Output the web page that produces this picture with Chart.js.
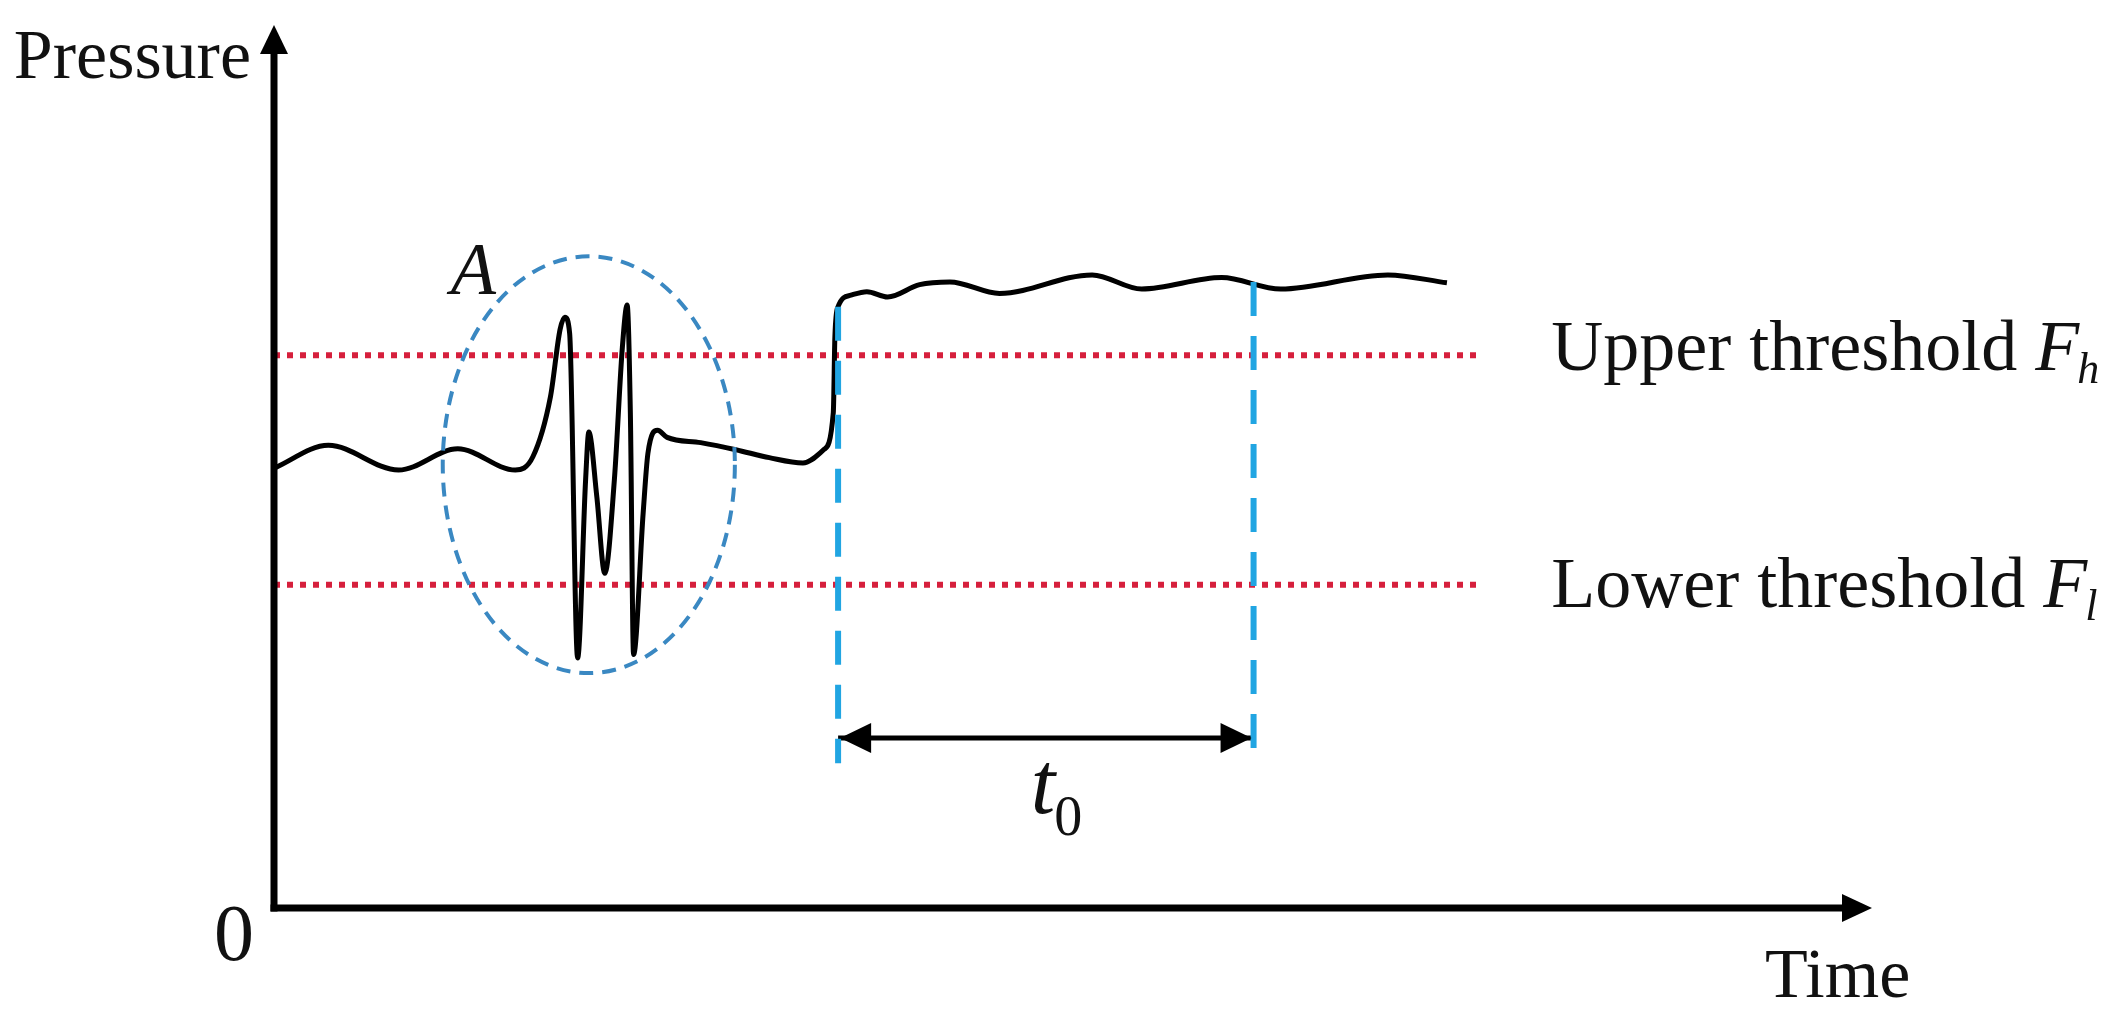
<!DOCTYPE html>
<html><head><meta charset="utf-8">
<script src="https://cdn.jsdelivr.net/npm/chart.js@4.4.1/dist/chart.umd.min.js"></script>
<style>html,body{margin:0;padding:0;background:#fff;overflow:hidden}canvas{display:block}</style>
</head><body>
<canvas id="c" width="2113" height="1015"></canvas>
<script>
// ---- data (arbitrary units: time 0..100, pressure 0..100) ----
const timeValues = [0, 3.4, 7.8, 11.5, 15.1, 16.2, 17.3, 17.9, 18.2, 18.5, 19.0, 19.5, 19.7, 20.2, 20.7, 21.3, 21.8, 22.1, 22.3, 22.5, 23.1, 23.4, 24.0, 24.6, 26.7, 28.9, 31.0, 33.1, 34.4, 35.0, 35.1, 35.3, 36.1, 37.1, 38.4, 40.4, 42.3, 45.4, 51.2, 54.3, 59.3, 63.0, 69.7, 73.4];
const pressureValues = [49.8, 52.4, 49.6, 52.0, 49.6, 51.1, 57.9, 65.5, 66.9, 65.1, 28.3, 48.5, 53.9, 46.6, 37.9, 48.5, 63.5, 68.3, 56.1, 28.7, 44.7, 51.5, 54.1, 53.3, 52.7, 51.9, 51.0, 50.4, 51.9, 56.1, 64.7, 68.1, 69.4, 69.8, 69.2, 70.6, 70.9, 69.6, 71.7, 70.1, 71.4, 70.1, 71.7, 70.8];
const upperThreshold = 62.6;
const lowerThreshold = 36.6;
const thresholdSpan = [0, 75.3];
const t0Bounds = [35.3, 61.3];
const t0LineTops = [68.1, 70.9];
const t0LineBottoms = [16.4, 15.9];
const t0ArrowLevel = 19.25;
const regionA = [19.7, 50.2, 9.14, 23.6]; // centre time, centre pressure, radius (time), radius (pressure)
const axisRange = [0, 100];
const axisTitleY = 'Pressure';
const axisTitleX = 'Time';
const originLabel = '0';
const upperLabel = ['Upper threshold ', 'F', 'h'];
const lowerLabel = ['Lower threshold ', 'F', 'l'];
const regionLabel = 'A';
const durationLabel = ['t', '0'];

const curve = timeValues.map((t, i) => ({x: t, y: pressureValues[i]}));
const RED = '#d61f3c', BLUE = '#21a5e2', ELL = '#3a88c2';
const SERIF = '"Liberation Serif", "Times New Roman", serif';

const deco = {
  id: 'deco',
  afterDatasetsDraw(chart) {
    const ctx = chart.ctx, xs = chart.scales.x, ys = chart.scales.y;
    const X = v => xs.getPixelForValue(v), Y = v => ys.getPixelForValue(v);
    ctx.save();
    // ellipse A
    const cx = X(regionA[0]), cy = Y(regionA[1]);
    const rx = X(regionA[0] + regionA[2]) - cx, ry = cy - Y(regionA[1] + regionA[3]);
    ctx.strokeStyle = ELL; ctx.lineWidth = 4; ctx.setLineDash([14, 9]);
    ctx.beginPath(); ctx.ellipse(cx, cy, rx, ry, 0, 0, Math.PI * 2); ctx.stroke();
    ctx.setLineDash([]);
    // axes
    const x0 = X(axisRange[0]), y0 = Y(axisRange[0]), xE = X(axisRange[1]), yE = Y(axisRange[1]);
    ctx.strokeStyle = '#000'; ctx.fillStyle = '#000'; ctx.lineWidth = 7; ctx.lineCap = 'butt';
    ctx.beginPath(); ctx.moveTo(x0, y0 + 3.5); ctx.lineTo(x0, yE + 20); ctx.stroke();
    ctx.beginPath(); ctx.moveTo(x0 - 3.5, y0); ctx.lineTo(xE - 20, y0); ctx.stroke();
    ctx.beginPath(); ctx.moveTo(x0, yE); ctx.lineTo(x0 - 14, yE + 29); ctx.lineTo(x0 + 14, yE + 29); ctx.closePath(); ctx.fill();
    ctx.beginPath(); ctx.moveTo(xE, y0); ctx.lineTo(xE - 30, y0 - 14); ctx.lineTo(xE - 30, y0 + 14); ctx.closePath(); ctx.fill();
    // double arrow heads
    const ay = Y(t0ArrowLevel), aL = X(t0Bounds[0]), aR = X(t0Bounds[1]);
    ctx.beginPath(); ctx.moveTo(aL + 2, ay); ctx.lineTo(aL + 33, ay - 15); ctx.lineTo(aL + 33, ay + 15); ctx.closePath(); ctx.fill();
    ctx.beginPath(); ctx.moveTo(aR - 2, ay); ctx.lineTo(aR - 33, ay - 15); ctx.lineTo(aR - 33, ay + 15); ctx.closePath(); ctx.fill();
    // texts
    ctx.fillStyle = '#111'; ctx.textBaseline = 'alphabetic';
    ctx.font = '70px ' + SERIF; ctx.textAlign = 'right';
    ctx.fillText(axisTitleY, x0 - 23, yE + 53);
    ctx.textAlign = 'center'; ctx.font = '80px ' + SERIF;
    ctx.fillText(originLabel, x0 - 40, y0 + 52);
    ctx.textAlign = 'left'; ctx.font = '70px ' + SERIF;
    ctx.fillText(axisTitleX, xE - 107, y0 + 89);
    const lblX = X(thresholdSpan[1]) + 74;
    const drawThr = (parts, base) => {
      ctx.font = '72px ' + SERIF;
      ctx.fillText(parts[0], lblX, base);
      let w = ctx.measureText(parts[0]).width;
      ctx.font = 'italic 72px ' + SERIF;
      ctx.fillText(parts[1], lblX + w, base);
      w += ctx.measureText(parts[1]).width;
      ctx.font = 'italic 44px ' + SERIF;
      ctx.fillText(parts[2], lblX + w - 2, base + 13);
    };
    drawThr(upperLabel, Y(upperThreshold) + 15);
    drawThr(lowerLabel, Y(lowerThreshold) + 22);
    ctx.font = 'italic 74px ' + SERIF;
    ctx.fillText(regionLabel, cx - 138, cy - 171);
    const tx = (aL + aR) / 2 - 15;
    ctx.font = 'italic 88px ' + SERIF;
    ctx.fillText(durationLabel[0], tx, ay + 75);
    const tw = ctx.measureText(durationLabel[0]).width;
    ctx.font = '56px ' + SERIF;
    ctx.fillText(durationLabel[1], tx + tw - 1, ay + 97);
    ctx.restore();
  }
};

new Chart(document.getElementById('c'), {
  type: 'scatter',
  data: {
    datasets: [
      {label: 'Upper threshold', data: thresholdSpan.map(t => ({x: t, y: upperThreshold})), showLine: true,
       borderColor: RED, borderWidth: 6, borderDash: [6, 7], pointRadius: 0, order: 4},
      {label: 'Lower threshold', data: thresholdSpan.map(t => ({x: t, y: lowerThreshold})), showLine: true,
       borderColor: RED, borderWidth: 6, borderDash: [6, 7], pointRadius: 0, order: 4},
      {label: 'Pressure', data: curve, showLine: true, borderColor: '#000', borderWidth: 5,
       cubicInterpolationMode: 'monotone', pointRadius: 0, order: 3},
      {label: 't0 start', data: [{x: t0Bounds[0], y: t0LineTops[0]}, {x: t0Bounds[0], y: t0LineBottoms[0]}], showLine: true,
       borderColor: BLUE, borderWidth: 6, borderDash: [34, 20], pointRadius: 0, order: 1},
      {label: 't0 end', data: [{x: t0Bounds[1], y: t0LineTops[1]}, {x: t0Bounds[1], y: t0LineBottoms[1]}], showLine: true,
       borderColor: BLUE, borderWidth: 6, borderDash: [34, 20], pointRadius: 0, order: 1},
      {label: 't0', data: t0Bounds.map(t => ({x: t, y: t0ArrowLevel})), showLine: true,
       borderColor: '#000', borderWidth: 5, pointRadius: 0, order: 2}
    ]
  },
  options: {
    responsive: false, animation: false, devicePixelRatio: 1,
    layout: {padding: {left: 274, right: 241, top: 25, bottom: 107}},
    plugins: {legend: {display: false}, tooltip: {enabled: false}},
    scales: {
      x: {type: 'linear', min: axisRange[0], max: axisRange[1], display: false},
      y: {type: 'linear', min: axisRange[0], max: axisRange[1], display: false}
    }
  },
  plugins: [deco]
});
</script>
</body></html>
